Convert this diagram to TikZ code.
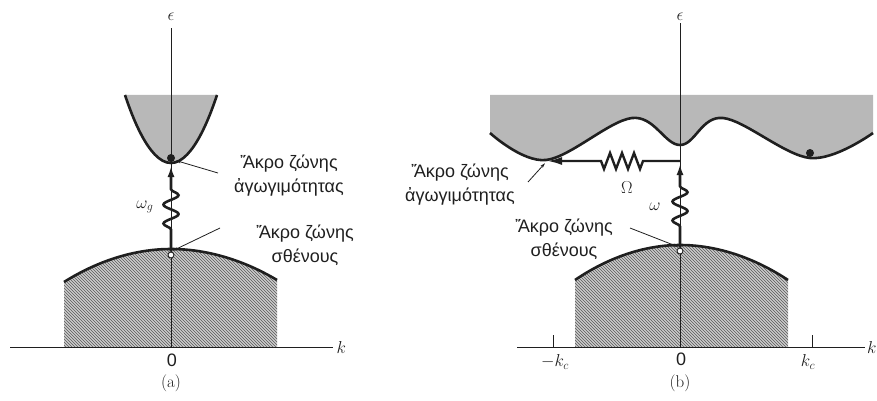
\documentclass[tikz,border=0pt]{standalone}
\usepackage{fontspec}
\newfontfamily\grfont{Liberation Sans}
\usetikzlibrary{arrows.meta, decorations.pathmorphing, patterns}
\definecolor{cink}{gray}{0.12}
\definecolor{cstip}{gray}{0.72}
\definecolor{chatch}{gray}{0.80}
\tikzset{
  every picture/.style={line width=1pt},
  axis/.style={draw=cink, line width=0.9pt},
  edge/.style={draw=cink, line width=2.6pt},
  cband/.style={fill=cstip},
  vband/.style={preaction={fill=chatch}, pattern=north west lines, pattern color=gray!70!black},
  photon/.style={edge, decorate, decoration={snake, amplitude=7.5pt, segment length=19pt, pre length=#1, post length=20pt},
    -{Latex[length=11pt, width=7pt]}},
  spring/.style={edge, line width=2.4pt, decorate, decoration={zigzag, amplitude=8pt, segment length=12pt, pre length=37pt, post length=53pt},
    -{Latex[length=15pt, width=8pt]}},
  pointer/.style={draw=cink, line width=0.8pt, -{Stealth[length=5pt, width=3pt]}},
  lbl/.style={font=\grfont\fontsize{18}{24}\selectfont, text=cink, align=center, inner sep=0pt},
  sym/.style={font=\fontsize{17}{18}\selectfont, text=cink, inner sep=0pt},
  elec/.style={circle, fill=cink, inner sep=0pt, minimum size=8pt},
  hole/.style={circle, draw=cink, fill=white, line width=0.9pt, inner sep=0pt, minimum size=6pt},
}

\begin{document}
\begin{tikzpicture}[x=1pt, y=-1pt]
  \useasboundingbox (0,0) rectangle (877,401);
  % (a)
  \fill[cband] (125,95) parabola bend (171,163) (217,95) -- cycle;
  \fill[vband] (64,347) -- (64,282) parabola bend (171,249) (277,280) -- (277,347) -- cycle;
  \node[sym] (epsA) at (171,17) {$\epsilon$};
  \node[sym, anchor=west] (kA) at (336,347) {$k$};
  \coordinate (kA0) at (10,347);
  \coordinate (oA) at (171,347);
  \draw[axis, shorten >=7pt] (oA) -- (epsA.south);
  \draw[axis, shorten >=3pt] (kA0) -- (kA.west);
  \draw[edge] (125,95) parabola bend (171,163) (217,95);
  \draw[edge] (64,282) parabola bend (171,249) (277,280);
  \node[hole] (holeA) at (171,255) {};
  \node[elec] (elecA) at (171,158) {};
  \coordinate (tipA) at (171,166);
  \draw[photon=22pt] (holeA.north) -- (tipA);
  \node[sym, font=\fontsize{18}{18}\selectfont] (wg) at (145,207) {$\omega_g$};
  \node[lbl] (cA) at (289,176) {Ἄκρο ζώνης\\ἀγωγιμότητας};
  \node[lbl] (vA) at (305,245) {Ἄκρο ζώνης\\σθένους};
  \coordinate (pcA) at (218,173);
  \coordinate (pvA) at (220,228);
  \draw[pointer, shorten >=1pt] (pcA) -- (elecA.-30);
  \draw[pointer, shorten >=2pt] (pvA) -- (holeA.north);
  \node[sym, font=\grfont\fontsize{18}{18}\selectfont] (zA) at (172,360) {0};
  \node[sym, font=\fontsize{17}{18}\selectfont] (capA) at (171,383) {(a)};
  % (b)
  \fill[cband] (490,95) -- plot[smooth, tension=0.6] coordinates {(490,133) (546,160) (632,118) (680,145) (723,118) (810,158) (873,133)} -- (873,95) -- cycle;
  \fill[vband] (575,347) -- (575,280) parabola bend (680,245) (788,280) -- (788,347) -- cycle;
  \node[sym] (epsB) at (680,17) {$\epsilon$};
  \node[sym, anchor=east] (kB) at (877,347) {$k$};
  \coordinate (kB0) at (517,347);
  \coordinate (oB) at (680,347);
  \draw[axis, shorten >=2pt] (oB) -- (epsB.south);
  \draw[axis, shorten >=2pt] (kB0) -- (kB.west);
  \foreach \x/\t [count=\i] in {553/-k_c, 812/k_c} {
    \coordinate (tk\i) at (\x,347);
    \draw[axis] (tk\i) -- ++(0,-12);
    \node[sym] (kc\i) at (\x+2-6*\i+6,362) {$\t$};
  }
  \draw[edge] plot[smooth, tension=0.6] coordinates {(490,133) (546,160) (632,118) (680,145) (723,118) (810,158) (873,133)};
  \draw[edge] (575,280) parabola bend (680,245) (788,280);
  \node[elec] (elecB) at (810,153) {};
  \node[hole] (holeB) at (680,251) {};
  \coordinate (cornB) at (680,161);
  \coordinate (edgeB) at (547,161);
  \coordinate (tipB) at (680,164);
  \draw[photon=21pt] (holeB.north) -- (tipB);
  \draw[spring] (cornB) -- (edgeB);
  \node[sym] (om) at (655,207) {$\omega$};
  \node[sym] (Om) at (627,188) {$\Omega$};
  \node[lbl] (cB) at (460,185) {Ἄκρο ζώνης\\ἀγωγιμότητας};
  \node[lbl] (vB) at (564,239) {Ἄκρο ζώνης\\σθένους};
  \coordinate (pcB) at (528,182);
  \coordinate (pvB) at (630,228);
  \draw[pointer, shorten >=3pt] (pcB) -- (edgeB);
  \draw[pointer, shorten >=2pt] (pvB) -- (holeB.north);
  \node[sym, font=\grfont\fontsize{18}{18}\selectfont] (zB) at (681,359) {0};
  \node[sym, font=\fontsize{17}{18}\selectfont] (capB) at (680,383) {(b)};
\end{tikzpicture}
\end{document}
